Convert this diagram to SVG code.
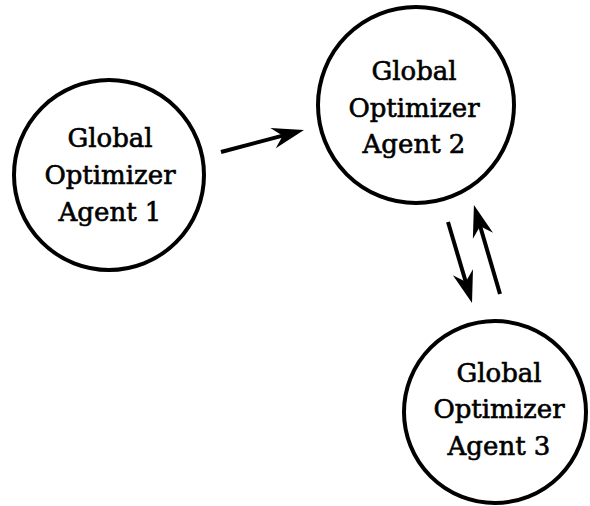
<svg xmlns="http://www.w3.org/2000/svg" width="590" height="506" viewBox="0 0 590 506">
<style>
.node{fill:#fff;stroke:#000;stroke-width:4}
.lbl{font-family:"DejaVu Serif","Liberation Serif",serif;font-size:26px;fill:#000;stroke:#000;stroke-width:0.6;text-anchor:middle}
.conn{stroke:#000;stroke-width:4;fill:none;marker-end:url(#ah)}
</style>
<defs>
<marker id="ah" markerUnits="userSpaceOnUse" viewBox="-32 -12 34 24" refX="-18" refY="0" markerWidth="34" markerHeight="24" orient="auto" overflow="visible">
<path d="M0,0 L-32,-10.5 L-22,0 L-32,10.5 Z" fill="#000"/>
</marker>
</defs>
<rect width="590" height="506" fill="#fff"/>
<g id="agent1">
<circle class="node" cx="109" cy="175" r="95"/>
<text class="lbl" x="110" y="147">Global</text>
<text class="lbl" x="110" y="184">Optimizer</text>
<text class="lbl" x="110" y="221">Agent 1</text>
</g>
<g id="agent2">
<circle class="node" cx="416" cy="105" r="98"/>
<text class="lbl" x="414" y="80">Global</text>
<text class="lbl" x="414" y="117">Optimizer</text>
<text class="lbl" x="414" y="153">Agent 2</text>
</g>
<g id="agent3">
<circle class="node" cx="495" cy="412" r="91"/>
<text class="lbl" x="499" y="382">Global</text>
<text class="lbl" x="499" y="418">Optimizer</text>
<text class="lbl" x="499" y="455">Agent 3</text>
</g>
<g id="connectors">
<line class="conn" x1="221" y1="152" x2="286.6" y2="134.6"/>
<line class="conn" x1="448" y1="222" x2="466.9" y2="285.7"/>
<line class="conn" x1="500" y1="294" x2="479" y2="222.3"/>
</g>
</svg>
